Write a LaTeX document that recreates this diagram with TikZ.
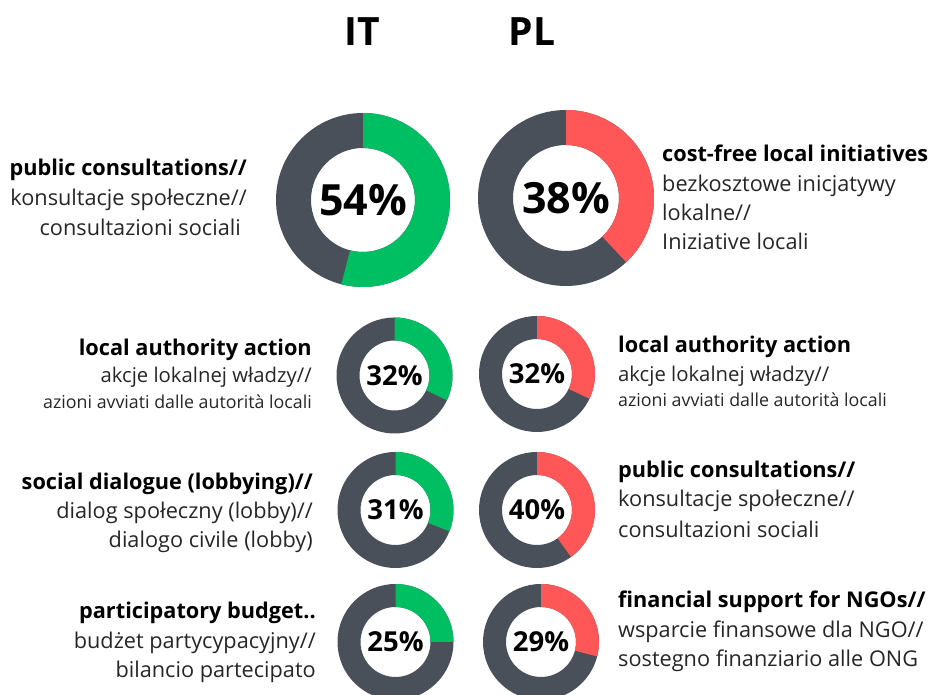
\documentclass[tikz,border=0pt]{standalone}
\usepackage{fontspec}
\setmainfont{Open Sans}
\usetikzlibrary{calc}
\definecolor{dgray}{RGB}{74,80,89}
\definecolor{itgreen}{RGB}{0,191,99}
\definecolor{plred}{RGB}{255,87,87}
\newcommand{\mydonut}[7]{%
  \coordinate (#1) at (#2,#3);
  \fill[dgray,even odd rule] (#1) circle (#4pt) (#1) circle (#5pt);
  \pgfmathsetmacro\endang{90-3.6*#6}
  \fill[#7] ($(#1)+(90:#4pt)$) arc[start angle=90,end angle=\endang,radius=#4pt]
     -- ($(#1)+(\endang:#5pt)$) arc[start angle=\endang,end angle=90,radius=#5pt] -- cycle;
}
\tikzset{
  title/.style={font=\fontsize{39}{40}\selectfont\bfseries, inner sep=0pt},
  bigpct/.style={font=\fontsize{43}{44}\selectfont\bfseries, inner sep=0pt},
  smallpct/.style={font=\fontsize{27.5}{28}\selectfont\bfseries, inner sep=0pt},
  hd/.style={font=\fontsize{21.7}{24}\selectfont\bfseries, inner sep=0pt, text=black},
  ln/.style={font=\fontsize{21.7}{24}\selectfont, inner sep=0pt, text=black!85},
  lnb/.style={font=\fontsize{20.3}{24}\selectfont, inner sep=0pt, text=black!85},
  sm/.style={font=\fontsize{17.8}{20}\selectfont, inner sep=0pt, text=black!85},
  L/.style={anchor=base east},
  R/.style={anchor=base west},
}
\begin{document}
\begin{tikzpicture}[x=1pt,y=1pt]
\useasboundingbox (0,0) rectangle (930,695);
% titles
\node[title] (tIT) at (362,663) {IT};
\node[title] (tPL) at (532,663) {PL};
% donuts (y = 695 - y_img)
\mydonut{d1}{363}{495}{87}{52}{54}{itgreen}
\mydonut{d2}{566}{497}{88}{53}{38}{plred}
\mydonut{d3}{394.5}{319.5}{58}{35}{32}{itgreen}
\mydonut{d4}{537}{321}{58}{35}{32}{plred}
\mydonut{d5}{395.5}{185}{58}{35}{31}{itgreen}
\mydonut{d6}{537}{185}{58}{35}{40}{plred}
\mydonut{d7}{395.5}{53}{58}{35}{25}{itgreen}
\mydonut{d8}{541}{53}{58}{35}{29}{plred}
\node[bigpct] (p1) at (d1) {54\%};
\node[bigpct] (p2) at (d2) {38\%};
\node[smallpct] (p3) at (d3) {32\%};
\node[smallpct] (p4) at (d4) {32\%};
\node[smallpct] (p5) at (d5) {31\%};
\node[smallpct] (p6) at (d6) {40\%};
\node[smallpct] (p7) at (d7) {25\%};
\node[smallpct] (p8) at (d8) {29\%};
% row 1 IT
\node[hd,L] (a1) at (247,519) {public consultations//};
\node[ln,L] (a2) at (247,489) {konsultacje społeczne//};
\node[ln,L] (a3) at (241,459) {consultazioni sociali};
% row 1 PL
\node[hd,R] (b1) at (662,533) {cost-free local initiatives};
\node[ln,R] (b2) at (662,503) {bezkosztowe inicjatywy};
\node[ln,R] (b3) at (662,474) {lokalne//};
\node[ln,R] (b4) at (662,445) {Iniziative locali};
% row 2 IT
\node[hd,L] (c1) at (312,339) {local authority action};
\node[lnb,L] (c2) at (312,312) {akcje lokalnej władzy//};
\node[sm,L] (c3) at (312,286) {azioni avviati dalle autorità locali};
% row 2 PL
\node[hd,R] (e1) at (618,342) {local authority action};
\node[lnb,R] (e2) at (618,313) {akcje lokalnej władzy//};
\node[sm,R] (e3) at (618,288) {azioni avviati dalle autorità locali};
% row 3 IT
\node[hd,L] (f1) at (313,205) {social dialogue (lobbying)//};
\node[ln,L] (f2) at (313,176) {dialog społeczny (lobby)//};
\node[ln,L] (f3) at (313,147) {dialogo civile (lobby)};
% row 3 PL
\node[hd,R] (g1) at (618,217) {public consultations//};
\node[ln,R] (g2) at (618,188) {konsultacje społeczne//};
\node[ln,R] (g3) at (618,157) {consultazioni sociali};
% row 4 IT
\node[hd,L] (h1) at (316,76) {participatory budget..};
\node[ln,L] (h2) at (316,46) {budżet partycypacyjny//};
\node[ln,L] (h3) at (316,17) {bilancio partecipato};
% row 4 PL
\node[hd,R] (k1) at (618,87) {financial support for NGOs//};
\node[ln,R] (k2) at (618,57) {wsparcie finansowe dla NGO//};
\node[ln,R] (k3) at (618,28) {sostegno finanziario alle ONG};
\end{tikzpicture}
\end{document}
